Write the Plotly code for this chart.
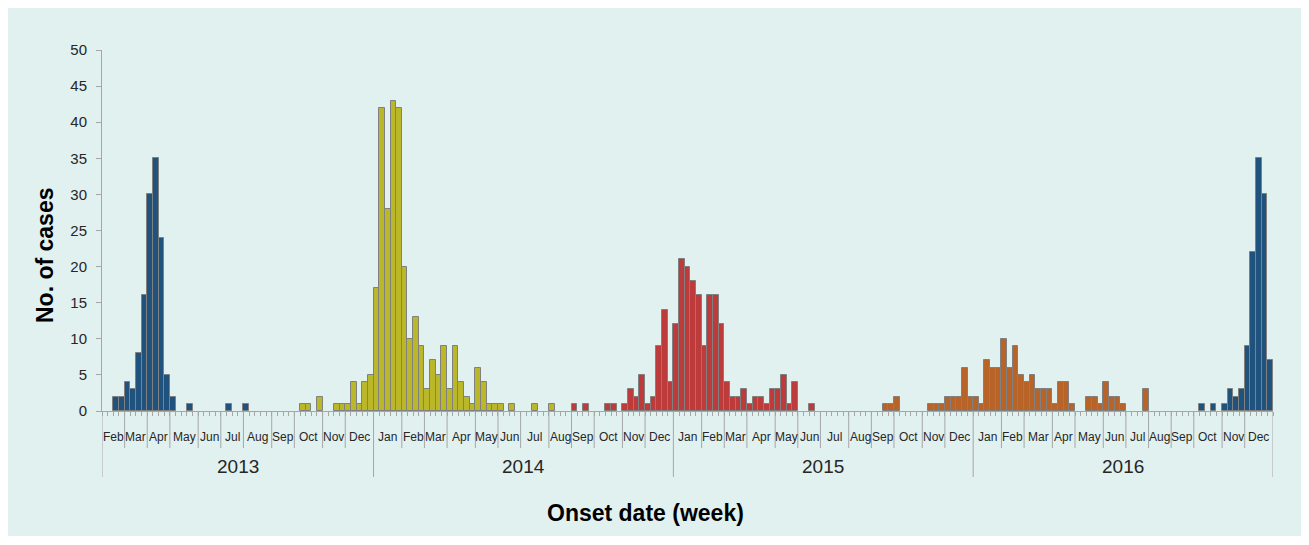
import plotly.graph_objects as go

# ---------------- data ----------------
years = ["2013", "2014", "2015", "2016"]
month_names = ["Jan", "Feb", "Mar", "Apr", "May", "Jun", "Jul", "Aug", "Sep", "Oct", "Nov", "Dec"]

months_2013 = month_names[1:]
weeks_per_month_2013 = [4, 4, 4, 5, 4, 4, 5, 4, 5, 4, 5]
months_2014 = month_names
weeks_per_month_2014 = [5, 4, 4, 5, 4, 4, 5, 4, 4, 5, 4, 5]
months_2015 = month_names
weeks_per_month_2015 = [5, 4, 4, 5, 4, 4, 5, 4, 4, 5, 4, 5]
months_2016 = month_names
weeks_per_month_2016 = [5, 4, 5, 4, 5, 4, 4, 4, 4, 5, 4, 5]

cases_2013 = [0, 0, 2, 2,  4, 3, 8, 16,  30, 35, 24, 5,  2, 0, 0, 1, 0,  0, 0, 0, 0,
              0, 1, 0, 0,  1, 0, 0, 0, 0,  0, 0, 0, 0,  0, 1, 1, 0, 2,  0, 0, 1, 1,
              1, 4, 1, 4, 5]
cases_2014 = [17, 42, 28, 43, 42,  20, 10, 13, 9,  3, 7, 5, 9,  3, 9, 4, 2, 1,
              6, 4, 1, 1,  1, 0, 1, 0,  0, 0, 1, 0, 0,  1, 0, 0, 0,  1, 0, 1, 0,
              0, 0, 1, 1, 0,  1, 3, 2, 5,  1, 2, 9, 14, 4]
cases_2015 = [12, 21, 20, 18, 16,  9, 16, 16, 12,  4, 2, 2, 3,  1, 2, 2, 1, 3,
              3, 5, 1, 4,  0, 0, 1, 0,  0, 0, 0, 0, 0,  0, 0, 0, 0,  0, 0, 1, 1,
              2, 0, 0, 0, 0,  0, 1, 1, 1,  2, 2, 2, 6, 2]
cases_2016 = [2, 1, 7, 6, 6,  10, 6, 9, 5,  4, 5, 3, 3, 3,  1, 4, 4, 1,  0, 0, 2, 2, 1,
              4, 2, 2, 1,  0, 0, 0, 3,  0, 0, 0, 0,  0, 0, 0, 0,  0, 1, 0, 1, 0,
              1, 3, 2, 3,  9, 22, 35, 30, 7]

# epidemic waves: first (year, month) and colour
wave_start_year = ["2013", "2013", "2014", "2015", "2016"]
wave_start_month = ["Feb", "Oct", "Sep", "Sep", "Oct"]
wave_colors = ["#1F527C", "#BAB829", "#BD3B3B", "#B86328", "#1F527C"]

# ---------------- build week index ----------------
year_months = {"2013": months_2013, "2014": months_2014, "2015": months_2015, "2016": months_2016}
year_weeks = {"2013": weeks_per_month_2013, "2014": weeks_per_month_2014,
              "2015": weeks_per_month_2015, "2016": weeks_per_month_2016}
year_cases = {"2013": cases_2013, "2014": cases_2014, "2015": cases_2015, "2016": cases_2016}

month_start = {}
month_info = []
year_info = []
all_cases = []
idx = 0
for y in years:
    ystart = idx
    for m, n in zip(year_months[y], year_weeks[y]):
        month_start[(y, m)] = idx
        month_info.append((y, m, idx, n))
        idx += n
    year_info.append((y, ystart, idx - ystart))
    all_cases.extend(year_cases[y])
n_weeks = idx

wave_first = [month_start[(y, m)] for y, m in zip(wave_start_year, wave_start_month)]

fig = go.Figure()
for k, col in enumerate(wave_colors):
    lo = wave_first[k]
    hi = wave_first[k + 1] if k + 1 < len(wave_first) else n_weeks
    xs = [i for i in range(lo, hi) if all_cases[i] > 0]
    ys = [all_cases[i] for i in xs]
    fig.add_trace(go.Bar(
        x=xs, y=ys, width=1,
        marker=dict(color=col, line=dict(color="#808080", width=1)),
        showlegend=False, hoverinfo="x+y",
    ))

FONT = "Liberation Sans, Arial, sans-serif"
TXT = "#262626"
GRID = "#A6A6A6"
BG = "#E1F1F0"

# page layout (page is offset by the 8px body margin)
OFF = 8
W, H = 1301 - OFF, 536 - OFF
PLOT_L, PLOT_R, PLOT_T, PLOT_B = 102, 1273, 50, 411   # page pixels
L, R, T, B = PLOT_L - OFF, (OFF + W) - PLOT_R, PLOT_T - OFF, (OFF + H) - PLOT_B
pw, ph = PLOT_R - PLOT_L, PLOT_B - PLOT_T

def py(page_y):
    return (PLOT_B - page_y) / ph

def px(page_x):
    return (page_x - PLOT_L) / pw

shapes = []
annotations = []
year_starts = {s for _, s, _ in year_info}
for (y, m, s, n) in month_info:
    if s not in year_starts:
        shapes.append(dict(type="line", xref="x", yref="paper", x0=s - 0.5, x1=s - 0.5,
                           y0=0, y1=py(448), line=dict(color=GRID, width=1)))
    annotations.append(dict(x=s + n / 2 - 0.5, y=py(437), xref="x", yref="paper",
                            text=m, showarrow=False, xanchor="center", yanchor="middle",
                            font=dict(family="Liberation Sans Narrow, Arial Narrow, " + FONT,
                                      size=12, color=TXT)))
for (y, s, n) in year_info:
    shapes.append(dict(type="line", xref="x", yref="paper", x0=s - 0.5, x1=s - 0.5,
                       y0=0, y1=py(477), line=dict(color=GRID, width=1)))
    annotations.append(dict(x=s + n / 2 - 0.5, y=py(466), xref="x", yref="paper",
                            text=y, showarrow=False, xanchor="center", yanchor="middle",
                            font=dict(family=FONT, size=19, color=TXT)))
shapes.append(dict(type="line", xref="x", yref="paper", x0=n_weeks - 0.5, x1=n_weeks - 0.5,
                   y0=0, y1=py(477), line=dict(color=GRID, width=1)))

annotations.append(dict(x=px(645), y=py(513), xref="paper", yref="paper",
                        text="<b>Onset date (week)</b>", showarrow=False,
                        xanchor="center", yanchor="middle",
                        font=dict(family=FONT, size=23, color="#000000")))
annotations.append(dict(x=px(45), y=py(255), xref="paper", yref="paper",
                        text="<b>No. of cases</b>", showarrow=False, textangle=-90,
                        xanchor="center", yanchor="middle",
                        font=dict(family=FONT, size=23, color="#000000")))

fig.update_layout(
    width=W, height=H,
    margin=dict(l=L, r=R, t=T, b=B),
    paper_bgcolor=BG,
    plot_bgcolor=BG,
    barmode="overlay",
    bargap=0,
    shapes=shapes,
    annotations=annotations,
    font=dict(family=FONT, color=TXT),
    xaxis=dict(range=[-0.5, n_weeks - 0.5], showgrid=False, zeroline=False,
               showline=True, linecolor=GRID, linewidth=1,
               tickmode="linear", tick0=-0.5, dtick=1,
               ticks="outside", ticklen=4, tickcolor=GRID, tickwidth=1,
               showticklabels=False),
    yaxis=dict(range=[0, 50], dtick=5, showgrid=False, zeroline=False,
               showline=True, linecolor=GRID, linewidth=1,
               ticks="outside", ticklen=5, tickcolor=GRID,
               ticklabelstandoff=6,
               tickfont=dict(family=FONT, size=15, color=TXT)),
)

fig.write_html("out.html")
